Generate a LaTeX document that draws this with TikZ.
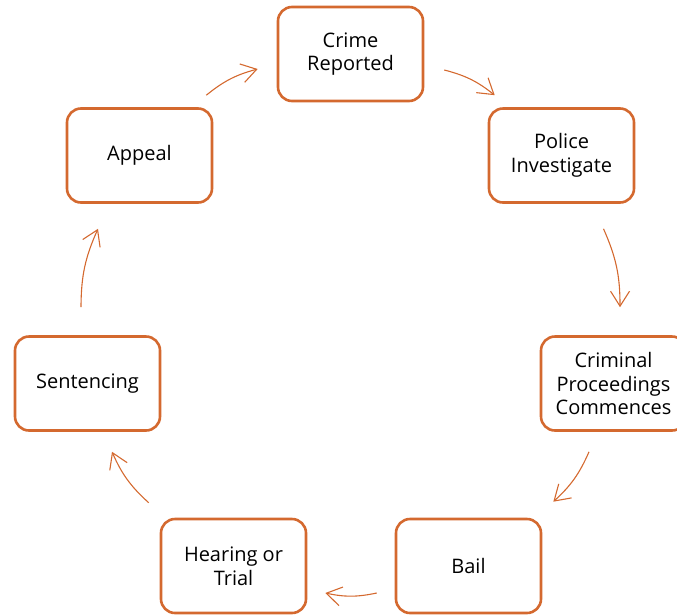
\documentclass[tikz,border=0pt]{standalone}
\usepackage{fontspec}
\setmainfont{Open Sans}
\usetikzlibrary{arrows.meta}
\definecolor{orng}{HTML}{D4692F}
\begin{document}
\begin{tikzpicture}[x=1pt,y=1pt,
  stepbox/.style={draw=orng, line width=2.6pt, rounded corners=14pt, minimum width=145pt, minimum height=94pt, align=center, font=\fontsize{20}{23.5}\selectfont, text=black, inner sep=0pt},
  flow/.style={draw=orng, line width=1.1pt, -{Straight Barb[length=15pt,width=19pt,line width=1.1pt]}, bend left=12}]
\useasboundingbox (0,0) rectangle (677,-614);
\node[stepbox] (crime) at (350.5,-54) {Crime\\Reported};
\node[stepbox] (police) at (561.5,-155.5) {Police\\Investigate};
\node[stepbox] (crim) at (613.5,-383.5) {Criminal\\Proceedings\\Commences};
\node[stepbox] (bail) at (468.5,-566) {Bail};
\node[stepbox] (hear) at (233.5,-566) {Hearing or\\Trial};
\node[stepbox] (sent) at (87.5,-383.5) {Sentencing};
\node[stepbox] (appeal) at (139.5,-155.5) {Appeal};
\draw[flow] ([shift={(20,-16)}]crime.east) to ([shift={(7,12)}]police.north west);
\draw[flow] ([shift={(42,-25)}]police.south) to ([shift={(6.5,28)}]crim.north);
\draw[flow] ([shift={(-24.5,-20)}]crim.south) to ([shift={(11,16)}]bail.north east);
\draw[flow] ([shift={(-18,-27)}]bail.west) to ([shift={(18,-27)}]hear.east);
\draw[flow] ([shift={(-11,15)}]hear.north west) to ([shift={(24.5,-20)}]sent.south);
\draw[flow] ([shift={(-6.5,28)}]sent.north) to ([shift={(-41.5,-25)}]appeal.south);
\draw[flow] ([shift={(-7,12)}]appeal.north east) to ([shift={(-19,-15)}]crime.west);
\end{tikzpicture}
\end{document}
